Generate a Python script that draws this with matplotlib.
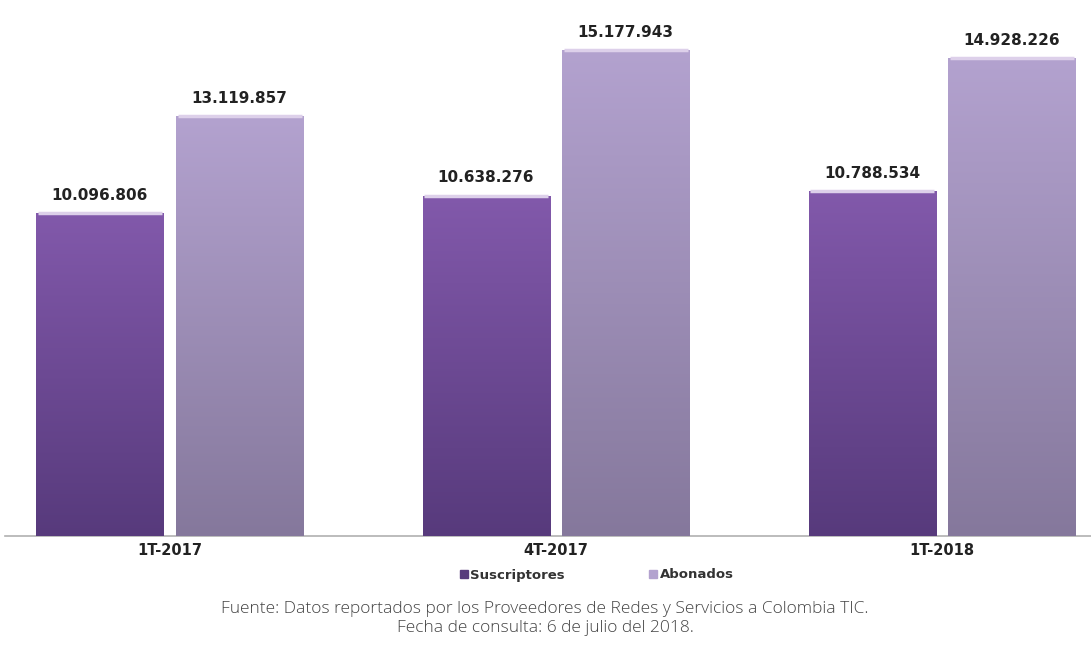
import matplotlib
matplotlib.use("Agg")
import matplotlib.pyplot as plt
import numpy as np
from matplotlib.colors import LinearSegmentedColormap
from matplotlib.lines import Line2D

categories = ["1T-2017", "4T-2017", "1T-2018"]
suscriptores = [10096806, 10638276, 10788534]
abonados = [13119857, 15177943, 14928226]
series_names = ["Suscriptores", "Abonados"]
source_lines = ["Fuente: Datos reportados por los Proveedores de Redes y Servicios a Colombia TIC.",
                "Fecha de consulta: 6 de julio del 2018."]

W, H = 1091, 655
fig = plt.figure(figsize=(W / 100, H / 100), dpi=100)
fig.patch.set_facecolor("white")

base_px = 536
top_px = 20
ax = fig.add_axes([5 / W, 1 - base_px / H, 1 - 5 / W, (base_px - top_px) / H])
px_per_unit = 32.0 / 1e6
ax.set_ylim(0, (base_px - top_px) / px_per_unit)
ax.set_xlim(-0.427, 2.386)

x = np.arange(len(categories))
width = 0.329
offset = 0.181

def fmt(v):
    return f"{v:,}".replace(",", ".")

grads = [("#8259ab", "#573a7c"), ("#b3a2cf", "#85789c")]
for vals, off, (ctop, cbot) in zip([suscriptores, abonados], [-offset, offset], grads):
    bars = ax.bar(x + off, vals, width, color=cbot, edgecolor="none", zorder=2)
    cmap = LinearSegmentedColormap.from_list("g", [cbot, ctop])
    grad = np.linspace(0, 1, 256).reshape(-1, 1)
    for b, v in zip(bars, vals):
        x0 = b.get_x()
        im = ax.imshow(grad, extent=[x0, x0 + width, 0, v], origin="lower",
                       cmap=cmap, aspect="auto", zorder=3)
        im.set_clip_path(b)
        ax.plot([x0 + 0.004, x0 + width - 0.004], [v, v], color="#ddd0ea", lw=2.5,
                solid_capstyle="butt", zorder=4)
        ax.text(b.get_x() + width / 2, v + 0.55e6, fmt(v), ha="center", va="center",
                fontsize=11, fontweight="bold", color="#222222", zorder=5)

ax.set_xlim(-0.427, 2.386)
ax.set_ylim(0, (base_px - top_px) / px_per_unit)
for s in ["top", "right", "left"]:
    ax.spines[s].set_visible(False)
ax.spines["bottom"].set_color("#b0b0b0")
ax.spines["bottom"].set_linewidth(1.2)
ax.set_yticks([])
ax.set_xticks(x)
ax.set_xticklabels(categories, fontsize=10.5, fontweight="bold", color="#222222")
ax.tick_params(axis="x", length=0, pad=5)
ax.set_facecolor("none")

handles = [Line2D([], [], marker="s", linestyle="none", markersize=6, color=grads[0][1]),
           Line2D([], [], marker="s", linestyle="none", markersize=6, color=grads[1][0])]
leg = fig.legend(handles, series_names, loc="center", bbox_to_anchor=(596 / W, 1 - 575 / H),
                 ncol=2, frameon=False, columnspacing=6.3, handletextpad=0.1,
                 handlelength=0.8, prop={"size": 9.5, "weight": "bold"})
for t in leg.get_texts():
    t.set_color("#333333")

fig.text(545 / W, 1 - 609 / H, source_lines[0], ha="center", va="center",
         fontsize=12.5, color="#444444", family="Open Sans", fontweight="light")
fig.text(545 / W, 1 - 628 / H, source_lines[1], ha="center", va="center",
         fontsize=12.5, color="#444444", family="Open Sans", fontweight="light")

fig.savefig("out.png", dpi=100)
